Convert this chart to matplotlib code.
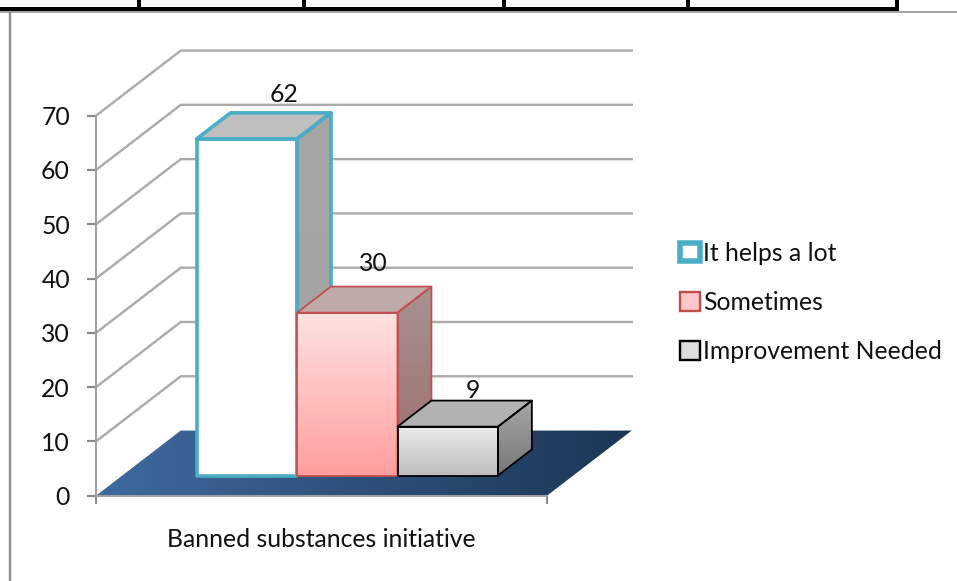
import numpy as np
import matplotlib
matplotlib.use("Agg")
import matplotlib.pyplot as plt
from matplotlib.colors import LinearSegmentedColormap
from matplotlib.lines import Line2D
from matplotlib.patches import Patch, Polygon, Rectangle

categories = ["Banned substances initiative"]
series_names = ["It helps a lot", "Sometimes", "Improvement Needed"]
series_values = [62, 30, 9]
y_ticks = [0, 10, 20, 30, 40, 50, 60, 70]

W, H = 957, 581
plt.rcParams["font.family"] = ["Lato", "DejaVu Sans"]
PX = 72 / 100
FONT = 17.8

# Oblique projection used by the pseudo-3D plot box (units: bar widths, values)
GAP = 0.74
DEPTH_X = 0.844
DEPTH_Y = 12.0
BAR_NEAR, BAR_FAR = 0.31, 0.71
Y_MAX = 70
X_MAX = len(series_values) + 2 * GAP + 0.01

GRID = "#ababab"
AXIS = "#a0a0a0"
TICK = "#8a8a8a"


def proj(x, y, d):
    return x + d * DEPTH_X, y + d * DEPTH_Y


def shaded(ax, verts, stops, horizontal=False, z=3):
    """Fill a polygon with a linear gradient clipped to its outline."""
    verts = np.array(verts)
    x0, x1 = verts[:, 0].min(), verts[:, 0].max()
    y0, y1 = verts[:, 1].min(), verts[:, 1].max()
    cmap = LinearSegmentedColormap.from_list("g", stops)
    ramp = np.linspace(0, 1, 256)
    img = ramp[None, :] if horizontal else ramp[:, None]
    im = ax.imshow(img, cmap=cmap, extent=(x0, x1, y0, y1), origin="lower",
                   aspect="auto", zorder=z, interpolation="bilinear")
    clip = Polygon(verts, closed=True, transform=ax.transData, fc="none", ec="none")
    ax.add_patch(clip)
    clip.set_clip_on(False)
    im.set_clip_box(fig.bbox)
    im.set_clip_path(clip)


fig = plt.figure(figsize=(W / 100, H / 100), dpi=100, facecolor="white")

# Cut-off table rule and chart frame along the page edge
fig.add_artist(Rectangle((0, 1 - 11 / H), 899 / W, 4 / H, transform=fig.transFigure,
                         fc="black", ec="none"))
for left in (137, 302, 502, 686, 895):
    fig.add_artist(Rectangle((left / W, 1 - 8 / H), 4 / W, 8 / H,
                             transform=fig.transFigure, fc="black", ec="none"))
fig.add_artist(Line2D([0, 1], [1 - 12 / H] * 2, color="#8f8f8f", lw=1.6 * PX))
fig.add_artist(Line2D([10 / W] * 2, [0, 1 - 12 / H], color="#8f8f8f", lw=2.4 * PX))

ax = fig.add_axes([96 / W, 1 - 495.7 / H, 451 / W, 380 / H], facecolor="none")

# Walls: gridlines run up the side wall and across the back wall
for v in y_ticks:
    bx, by = proj(0, v, 1)
    ex, ey = proj(X_MAX, v, 1)
    if v > 0:
        ax.plot([0, bx, ex], [v, by, ey], color=GRID, lw=2.4 * PX, zorder=1,
                clip_on=False, solid_joinstyle="miter")

# Floor
floor = [proj(0, 0, 0), proj(X_MAX, 0, 0), proj(X_MAX, 0, 1), proj(0, 0, 1)]
shaded(ax, floor, ["#3f6a9e", "#1c3656"], horizontal=True, z=2)

# Bars: front, side and top faces for each series
edge_colors = ["#4bacc6", "#c0504d", "#000000"]
edge_widths = [3.6, 1.8, 1.8]
front_stops = [["#ffffff", "#ffffff"], ["#ff9e9e", "#ffe2e2"], ["#bcbcbc", "#ebebeb"]]
side_stops = [["#a3a3a3", "#a6a6a6"], ["#9c6c6c", "#a89292"], ["#767676", "#a6a6a6"]]
top_colors = ["#bfbfbf", "#bfa9a9", "#b2b2b2"]
label_offsets = [(37, 18), (26, 23), (25, 10)]

for i, (value, edge) in enumerate(zip(series_values, edge_colors)):
    left, right = GAP + i, GAP + i + 1
    x0, y0 = proj(left, 0, BAR_NEAR)
    x1, _ = proj(right, 0, BAR_NEAR)
    y1 = y0 + value
    x2, y2 = proj(right, value, BAR_FAR)
    _, y3 = proj(right, 0, BAR_FAR)
    x4, _ = proj(left, 0, BAR_FAR)
    z = 4 + i

    front = [(x0, y0), (x1, y0), (x1, y1), (x0, y1)]
    side = [(x1, y0), (x2, y3), (x2, y2), (x1, y1)]
    top = [(x0, y1), (x1, y1), (x2, y2), (x4, y2)]

    shaded(ax, side, side_stops[i], z=z)
    shaded(ax, front, front_stops[i], z=z)
    ax.add_patch(Polygon(top, closed=True, fc=top_colors[i], ec="none", zorder=z,
                         clip_on=False))
    lw = edge_widths[i] * PX
    for face in (side, top, front):
        ax.add_patch(Polygon(face, closed=True, fc="none", ec=edge, lw=lw, zorder=z + 0.5,
                             clip_on=False, joinstyle="round"))

    ox, oy = label_offsets[i]
    ax.annotate(str(value), xy=((x0 + x1) / 2, y2), xytext=(ox * PX, oy * PX),
                textcoords="offset points", ha="center", va="center",
                fontsize=FONT, color="#111111", zorder=20, annotation_clip=False)

ax.set_xlim(0, X_MAX)
ax.set_ylim(0, Y_MAX)

for name in ("top", "right"):
    ax.spines[name].set_visible(False)
for name in ("left", "bottom"):
    ax.spines[name].set_color(AXIS)
    ax.spines[name].set_linewidth(2 * PX)
    ax.spines[name].set_zorder(2.5)

ax.set_yticks(y_ticks)
ax.tick_params(axis="y", length=9 * PX, width=2.2 * PX, color=TICK, pad=17 * PX,
               labelsize=FONT, labelcolor="#111111")
ax.set_xticks([X_MAX / 2], categories)
ax.tick_params(axis="x", which="major", length=0, pad=32 * PX, labelsize=FONT,
               labelcolor="#111111")
ax.set_xticks([0, X_MAX], minor=True)
ax.tick_params(axis="x", which="minor", length=8 * PX, width=2 * PX, color=TICK)

# Legend
handles = [Patch(fc=f, ec=e, lw=w * PX, joinstyle="round") for f, e, w in zip(
    ["#ffffff", "#ffc8c8", "#dcdcdc"], edge_colors, [5.5, 2.4, 2.4])]
fig.legend(handles, series_names, loc="center left",
           bbox_to_anchor=(680 / W, 1 - 302.5 / H), frameon=False, fontsize=FONT,
           handlelength=0.8, handleheight=0.8, handletextpad=0.15, labelspacing=1.07,
           borderpad=0, borderaxespad=0, labelcolor="#111111")

fig.savefig("out.png", dpi=100)
